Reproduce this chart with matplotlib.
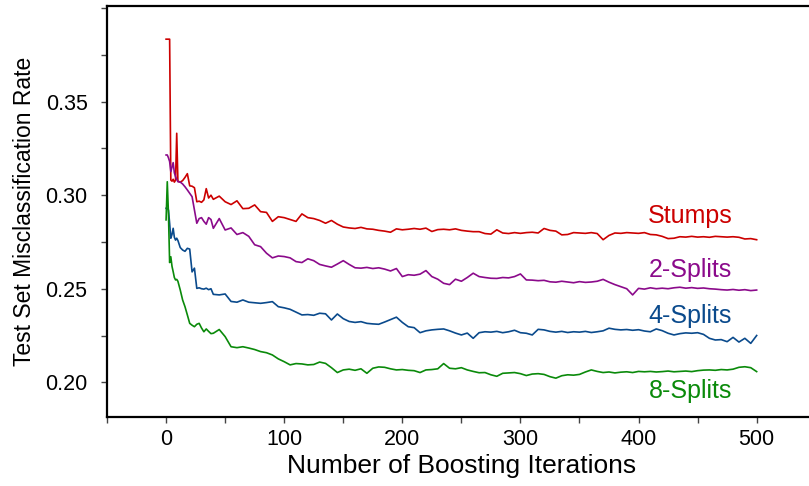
import matplotlib

matplotlib.use("Agg")
import matplotlib.pyplot as plt
from matplotlib.ticker import MultipleLocator

plt.rcParams["font.family"] = ["Liberation Sans", "DejaVu Sans"]

# boosting iteration at which each value was read
iterations = (
    [0, 1, 2, 3, 4, 5, 6, 7, 8, 9, 10]
    + list(range(12, 41, 2))
    + list(range(45, 501, 5))
)

stumps = [
    0.3834, 0.3834, 0.3834, 0.3834, 0.3081, 0.3075, 0.3085, 0.3070, 0.3080, 0.3331, 0.3075,
    0.3070, 0.3078, 0.3095, 0.3115, 0.3050, 0.3048, 0.3040, 0.2965, 0.2968, 0.2962,
    0.2975, 0.3035, 0.2985, 0.3000, 0.2978,
    0.2995, 0.2965, 0.2950, 0.2970, 0.2928, 0.2930, 0.2948, 0.2912, 0.2908, 0.2860,
    0.2885, 0.2880, 0.2870, 0.2860, 0.2900, 0.2880, 0.2875, 0.2865, 0.2850, 0.2865,
    0.2845, 0.2830, 0.2825, 0.2822, 0.2828, 0.2820, 0.2818, 0.2812, 0.2808, 0.2802,
    0.2820, 0.2815, 0.2818, 0.2822, 0.2818, 0.2824, 0.2806, 0.2816, 0.2818, 0.2815,
    0.2820, 0.2812, 0.2808, 0.2805, 0.2805, 0.2795, 0.2792, 0.2815, 0.2798, 0.2795,
    0.2800, 0.2796, 0.2800, 0.2802, 0.2798, 0.2822, 0.2812, 0.2808, 0.2788, 0.2790,
    0.2800, 0.2798, 0.2796, 0.2800, 0.2795, 0.2762, 0.2785, 0.2798, 0.2796, 0.2800,
    0.2798, 0.2796, 0.2800, 0.2790, 0.2788, 0.2780, 0.2768, 0.2770, 0.2778, 0.2776,
    0.2780, 0.2776, 0.2778, 0.2775, 0.2780, 0.2778, 0.2776, 0.2778, 0.2775, 0.2766,
    0.2768, 0.2762,
]

splits2 = [
    0.3215, 0.3215, 0.3200, 0.3180, 0.3126, 0.3150, 0.3174, 0.3120, 0.3099, 0.3085, 0.3072,
    0.3070, 0.3060, 0.3045, 0.3028, 0.3010, 0.2992, 0.2921, 0.2850, 0.2875, 0.2880,
    0.2860, 0.2845, 0.2880, 0.2870, 0.2823,
    0.2875, 0.2814, 0.2825, 0.2790, 0.2800, 0.2780, 0.2735, 0.2725, 0.2690, 0.2665,
    0.2675, 0.2672, 0.2665, 0.2645, 0.2640, 0.2660, 0.2650, 0.2630, 0.2622, 0.2615,
    0.2632, 0.2650, 0.2630, 0.2612, 0.2610, 0.2614, 0.2608, 0.2612, 0.2605, 0.2595,
    0.2608, 0.2565, 0.2575, 0.2572, 0.2578, 0.2597, 0.2565, 0.2551, 0.2529, 0.2522,
    0.2551, 0.2540, 0.2560, 0.2583, 0.2565, 0.2560, 0.2556, 0.2555, 0.2560, 0.2558,
    0.2565, 0.2579, 0.2547, 0.2546, 0.2543, 0.2545, 0.2537, 0.2535, 0.2540, 0.2536,
    0.2532, 0.2538, 0.2534, 0.2536, 0.2540, 0.2550, 0.2535, 0.2522, 0.2511, 0.2500,
    0.2467, 0.2502, 0.2498, 0.2505, 0.2500, 0.2503, 0.2500, 0.2505, 0.2508, 0.2503,
    0.2506, 0.2502, 0.2504, 0.2500, 0.2498, 0.2495, 0.2493, 0.2496, 0.2492, 0.2495,
    0.2490, 0.2493,
]

splits4 = [
    0.2930, 0.2930, 0.2921, 0.2850, 0.2770, 0.2790, 0.2823, 0.2775, 0.2760, 0.2770, 0.2758,
    0.2720, 0.2707, 0.2700, 0.2716, 0.2712, 0.2590, 0.2610, 0.2502, 0.2505, 0.2500,
    0.2498, 0.2503, 0.2495, 0.2500, 0.2470,
    0.2467, 0.2472, 0.2432, 0.2428, 0.2440, 0.2428, 0.2425, 0.2422, 0.2426, 0.2431,
    0.2404, 0.2398, 0.2390, 0.2375, 0.2360, 0.2362, 0.2358, 0.2369, 0.2366, 0.2333,
    0.2365, 0.2340, 0.2325, 0.2320, 0.2324, 0.2315, 0.2312, 0.2310, 0.2322, 0.2335,
    0.2348, 0.2320, 0.2297, 0.2292, 0.2265, 0.2275, 0.2280, 0.2283, 0.2285, 0.2275,
    0.2263, 0.2253, 0.2263, 0.2235, 0.2265, 0.2270, 0.2268, 0.2272, 0.2265, 0.2270,
    0.2278, 0.2265, 0.2262, 0.2253, 0.2283, 0.2280, 0.2272, 0.2268, 0.2272, 0.2266,
    0.2270, 0.2268, 0.2272, 0.2266, 0.2270, 0.2275, 0.2289, 0.2283, 0.2280, 0.2282,
    0.2278, 0.2281, 0.2274, 0.2270, 0.2285, 0.2276, 0.2262, 0.2253, 0.2260, 0.2264,
    0.2262, 0.2265, 0.2256, 0.2235, 0.2226, 0.2228, 0.2217, 0.2240, 0.2215, 0.2235,
    0.2208, 0.2250,
]

splits8 = [
    0.2868, 0.3072, 0.2903, 0.2640, 0.2671, 0.2620, 0.2591, 0.2560, 0.2547, 0.2550, 0.2540,
    0.2493, 0.2440, 0.2404, 0.2360, 0.2315, 0.2305, 0.2297, 0.2310, 0.2315, 0.2290,
    0.2270, 0.2285, 0.2272, 0.2260, 0.2262,
    0.2282, 0.2244, 0.2190, 0.2185, 0.2190, 0.2183, 0.2175, 0.2164, 0.2158, 0.2146,
    0.2125, 0.2110, 0.2093, 0.2100, 0.2098, 0.2093, 0.2095, 0.2108, 0.2101, 0.2078,
    0.2052, 0.2066, 0.2070, 0.2064, 0.2072, 0.2048, 0.2075, 0.2082, 0.2080, 0.2072,
    0.2066, 0.2068, 0.2064, 0.2062, 0.2052, 0.2066, 0.2068, 0.2072, 0.2100, 0.2075,
    0.2072, 0.2078, 0.2066, 0.2058, 0.2051, 0.2052, 0.2040, 0.2032, 0.2048, 0.2050,
    0.2052, 0.2046, 0.2036, 0.2044, 0.2046, 0.2042, 0.2030, 0.2022, 0.2035, 0.2040,
    0.2038, 0.2042, 0.2055, 0.2066, 0.2058, 0.2052, 0.2055, 0.2050, 0.2054, 0.2056,
    0.2052, 0.2058, 0.2056, 0.2058, 0.2055, 0.2057, 0.2060, 0.2056, 0.2058, 0.2060,
    0.2057, 0.2062, 0.2065, 0.2066, 0.2064, 0.2068, 0.2066, 0.2070, 0.2080, 0.2083,
    0.2078, 0.2057,
]

series_names = ["Stumps", "2-Splits", "4-Splits", "8-Splits"]
series_values = [stumps, splits2, splits4, splits8]
series_colors = ["#cc0000", "#8b0a8b", "#0a4a8c", "#0a8a0a"]
label_y = [0.2889, 0.2600, 0.2354, 0.1954]

fig = plt.figure(figsize=(8.09, 4.86), dpi=100)
ax = fig.add_axes([0.1323, 0.1426, 0.876, 0.8457])

for name, vals, color, ly in zip(series_names, series_values, series_colors, label_y):
    ax.plot(iterations, vals, color=color, lw=1.2)
    ax.text(444, ly, name, color=color, fontsize=18, ha="center", va="center")

ax.set_xlim(-50, 550)
ax.set_ylim(0.1816, 0.4013)
ax.xaxis.set_major_locator(MultipleLocator(100))
ax.xaxis.set_minor_locator(MultipleLocator(50))
ax.set_yticks([0.20, 0.25, 0.30, 0.35])
ax.yaxis.set_minor_locator(MultipleLocator(0.025))
ax.set_yticklabels(["0.20", "0.25", "0.30", "0.35"])
ax.tick_params(which="both", direction="out", length=4, width=1, color="#444444")
ax.tick_params(axis="x", labelsize=15.5, pad=5)
ax.tick_params(axis="y", labelsize=15.5, pad=10)
for s in ax.spines.values():
    s.set_linewidth(1.6)

ax.set_xlabel("Number of Boosting Iterations", fontsize=19, labelpad=3)
ax.set_ylabel("Test Set Misclassification Rate", fontsize=16.5, labelpad=7)

fig.savefig("out.png", dpi=100)
